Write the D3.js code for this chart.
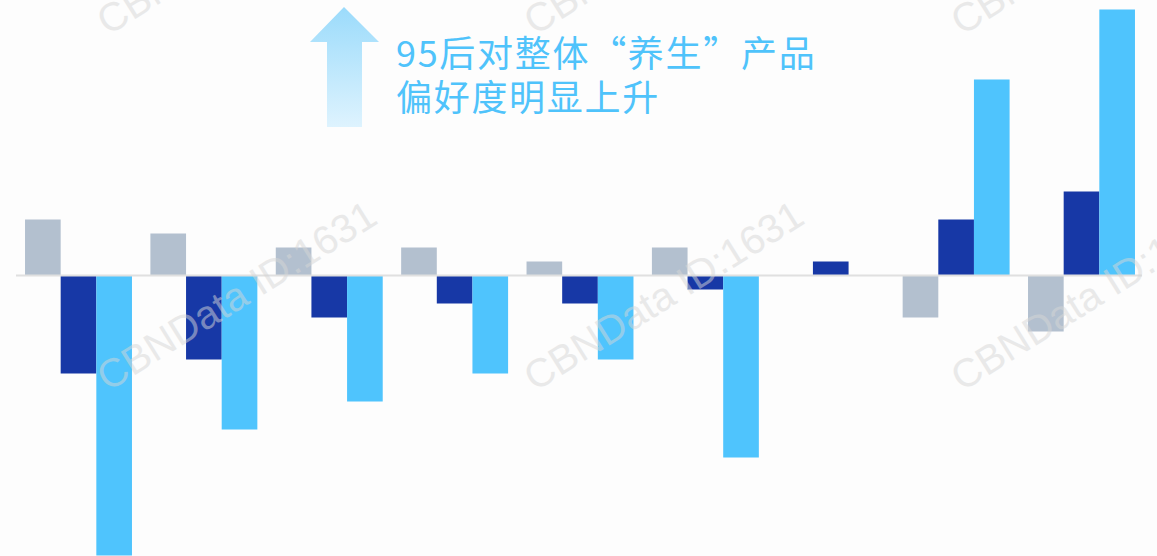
<!DOCTYPE html>
<meta charset="utf-8">
<script src="https://cdn.jsdelivr.net/npm/d3@7"></script>
<style>
body {margin: 0; background: #fdfdfd;}
.note {fill: #4fc3fb; font-size: 36px; font-family: "Noto Sans CJK SC", sans-serif; letter-spacing: 1.7px;}
.mark {fill: #d6d6d6; opacity: 0.5; font-size: 40px; font-family: "Liberation Sans", Arial, sans-serif;}
</style>
<div id="vis"></div>
<script>

// data: change index per group, three age cohorts
const categories = ["1", "2", "3", "4", "5", "6", "7", "8", "9"];
const series = ["older", "mid", "post95"];
const older  = [ 4,  3,  2,  2,  1,  2, 0, -3, -4];
const mid    = [-7, -6, -3, -2, -2, -1, 1,  4,  6];
const post95 = [-20, -11, -9, -7, -6, -13, 0, 14, 19];
const colors = ["#b3c0cf", "#1738a6", "#4fc4fd"];
const noteLines = ["95后对整体“养生”产品", "偏好度明显上升"];

const w = 1157, h = 556;

let svg = d3.select("#vis").append("svg")
    .attr("width", w)
    .attr("height", h);

let defs = svg.append("defs");
let grad = defs.append("linearGradient")
    .attr("id", "arrowGrad")
    .attr("x1", 0).attr("y1", 0).attr("x2", 0).attr("y2", 1);
grad.append("stop").attr("offset", "0%").attr("stop-color", "#9bdbfb");
grad.append("stop").attr("offset", "100%").attr("stop-color", "#def3fe");

// scales
let x0 = d3.scaleBand()
    .domain(categories)
    .range([16, 1144])
    .paddingInner(0.147)
    .paddingOuter(0.072);

let x1 = d3.scaleBand()
    .domain(series)
    .range([0, x0.bandwidth()]);

let y = d3.scaleLinear()
    .domain([-20, 20])
    .range([555.5, -4.5]);

const rows = categories.map((c, i) => ({
  cat: c,
  vals: [older[i], mid[i], post95[i]].map((v, j) => ({key: series[j], value: v, color: colors[j]}))
}));

// bars
let groups = svg.append("g").selectAll("g")
    .data(rows)
  .enter().append("g")
    .attr("transform", d => "translate(" + x0(d.cat) + ",0)");

groups.selectAll("rect")
    .data(d => d.vals.filter(v => v.value !== 0))
  .enter().append("rect")
    .attr("x", d => x1(d.key))
    .attr("width", x1.bandwidth())
    .attr("y", d => y(Math.max(0, d.value)))
    .attr("height", d => Math.abs(y(d.value) - y(0)))
    .attr("fill", d => d.color);

// zero line
svg.append("line")
    .attr("x1", 16).attr("x2", 1142)
    .attr("y1", y(0)).attr("y2", y(0))
    .attr("stroke", "#e0e0e0")
    .attr("stroke-width", 2);

// arrow + note
svg.append("path")
    .attr("d", "M344,7 L379,42 L362,42 L362,127 L327,127 L327,42 L310,42 Z")
    .attr("fill", "url(#arrowGrad)");

svg.append("g").selectAll("text")
    .data(noteLines)
  .enter().append("text")
    .attr("class", "note")
    .attr("x", 396)
    .attr("y", (d, i) => 67 + i * 44)
    .text(d => d);

// watermarks
const markX = [108, 535, 962], markY = [36, 392];
markY.forEach(my => markX.forEach(mx => {
  svg.append("text")
    .attr("class", "mark")
    .attr("transform", "translate(" + mx + "," + my + ") rotate(-32)")
    .text("CBNData ID:1631");
}));

</script>
